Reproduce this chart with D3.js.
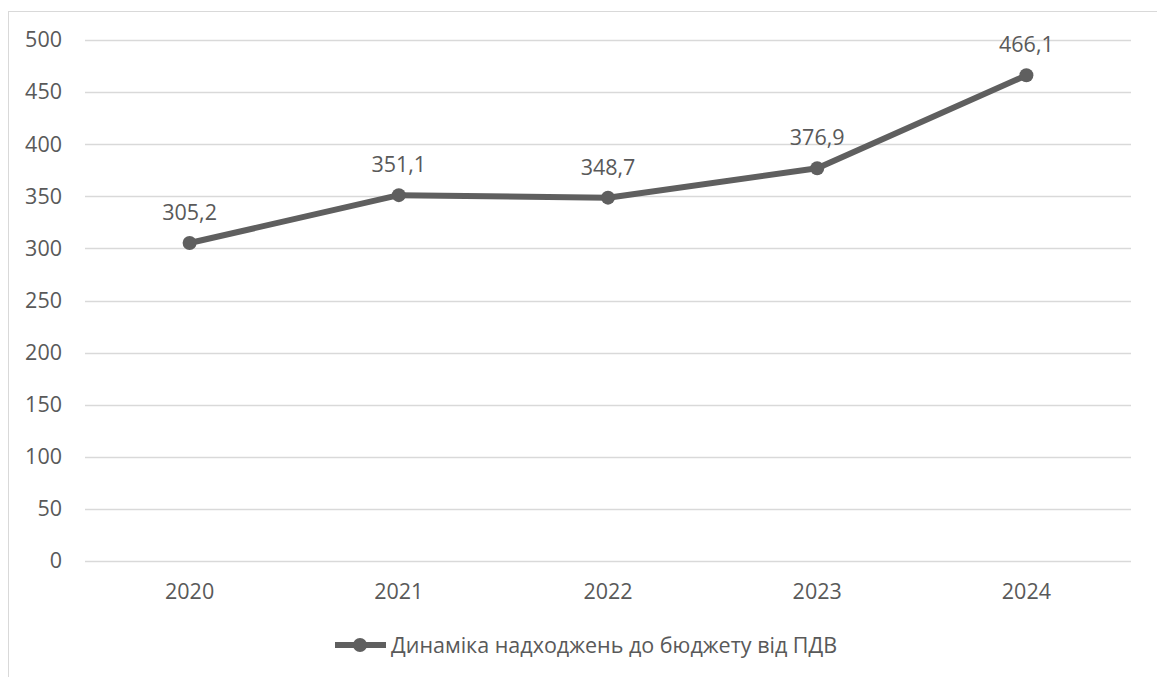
<!DOCTYPE html>
<html>
<head>
<meta charset="utf-8">
<script src="https://cdn.jsdelivr.net/npm/d3@7"></script>
<style>
  html, body { margin: 0; padding: 0; background: #fff; }
  svg { display: block; font-family: "Open Sans", "Noto Sans", sans-serif; }
</style>
</head>
<body>
<svg id="chart" width="1157" height="677"></svg>
<script>
// VAT revenue to the budget by year
const years = ["2020", "2021", "2022", "2023", "2024"];
const values = [305.2, 351.1, 348.7, 376.9, 466.1];
const yTicks = [0, 50, 100, 150, 200, 250, 300, 350, 400, 450, 500];
const seriesName = "Динаміка надходжень до бюджету від ПДВ";

const svg = d3.select("#chart");
const ink = "#595959";
const lineColor = "#5f5f5f";
const fontSize = "21.5px";
const fontFamily = "'Open Sans', 'Noto Sans', sans-serif";

// outer chart frame
svg.append("rect")
  .attr("x", 8.5).attr("y", 11.5)
  .attr("width", 1160).attr("height", 700)
  .attr("fill", "none").attr("stroke", "#d9d9d9").attr("stroke-width", 1);

const plot = { left: 85, right: 1131, top: 40, bottom: 561 };

const x = d3.scaleBand().domain(years).range([plot.left, plot.right]);
const y = d3.scaleLinear().domain([0, 500]).range([plot.bottom, plot.top]);

// horizontal gridlines
svg.append("g")
  .selectAll("line")
  .data(yTicks)
  .join("line")
  .attr("x1", plot.left).attr("x2", plot.right)
  .attr("y1", d => Math.round(y(d)) + 0.5).attr("y2", d => Math.round(y(d)) + 0.5)
  .attr("stroke", "#d9d9d9").attr("stroke-width", 1.3);

// y axis labels
const yAxis = d3.axisLeft(y).tickValues(yTicks).tickSize(0).tickPadding(0);
const gy = svg.append("g").attr("transform", `translate(${plot.left - 23},0)`).call(yAxis);
gy.select(".domain").remove();
gy.selectAll("text").attr("fill", ink).style("font-size", fontSize)
  .style("font-family", fontFamily);

// x axis labels
const xAxis = d3.axisBottom(x).tickSize(0).tickPadding(0);
const gx = svg.append("g").attr("transform", `translate(0,${plot.bottom})`).call(xAxis);
gx.select(".domain").remove();
gx.selectAll("text").attr("fill", ink).style("font-size", fontSize)
  .style("font-family", fontFamily)
  .attr("dy", null).attr("y", 38);

const cx = d => x(d) + x.bandwidth() / 2;

// series line
const line = d3.line().x((d, i) => cx(years[i])).y(d => y(d));
svg.append("path")
  .datum(values)
  .attr("d", line)
  .attr("fill", "none")
  .attr("stroke", lineColor)
  .attr("stroke-width", 6)
  .attr("stroke-linejoin", "round");

// markers
svg.append("g")
  .selectAll("circle")
  .data(values)
  .join("circle")
  .attr("cx", (d, i) => cx(years[i]))
  .attr("cy", d => y(d))
  .attr("r", 7)
  .attr("fill", lineColor);

// data labels
const fmt = v => v.toFixed(1).replace(".", ",");
svg.append("g")
  .selectAll("text")
  .data(values)
  .join("text")
  .attr("x", (d, i) => cx(years[i]))
  .attr("y", d => y(d) - 23)
  .attr("text-anchor", "middle")
  .attr("fill", ink)
  .style("font-size", fontSize)
  .text(d => fmt(d));

// legend
const lg = svg.append("g").attr("transform", "translate(335,645)");
lg.append("line").attr("x1", 0).attr("x2", 51).attr("y1", 0).attr("y2", 0)
  .attr("stroke", lineColor).attr("stroke-width", 6);
lg.append("circle").attr("cx", 25).attr("cy", 0).attr("r", 7).attr("fill", lineColor);
lg.append("text").attr("x", 56).attr("y", 7.5)
  .attr("fill", ink).style("font-size", fontSize).text(seriesName);
</script>
</body>
</html>
